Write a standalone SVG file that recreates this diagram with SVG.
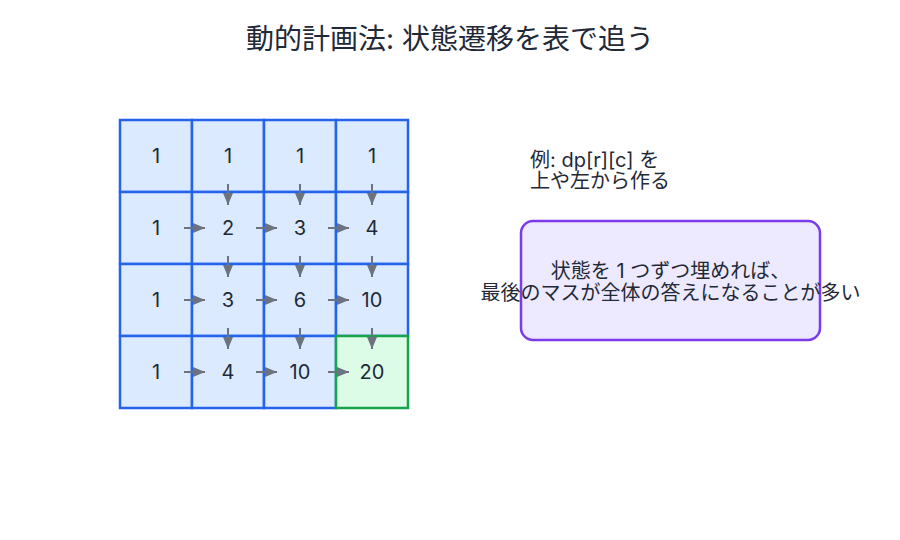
<svg xmlns="http://www.w3.org/2000/svg" width="900" height="540" viewBox="0 0 900 540">
<defs>
<marker id="ah" viewBox="0 0 12 10" refX="12" refY="5" markerWidth="12" markerHeight="10" markerUnits="userSpaceOnUse" orient="auto">
<path d="M0,0 L12,5 L0,10 Z" fill="#6b7280"/>
</marker>
</defs>
<style>
text{font-family:Inter,"Noto Sans CJK JP",sans-serif;fill:#1f2937}
.title{font-size:28px}
.num{font-size:20px;text-anchor:middle;dominant-baseline:central}
.lbl{font-size:20px}
.cell rect{fill:#dbeafe;stroke:#2563eb;stroke-width:2.5}
.goal rect{fill:#dcfce7;stroke:#16a34a;stroke-width:2.5}
.arr line{stroke:#6b7280;stroke-width:2;marker-end:url(#ah)}
.note{fill:#ede9fe;stroke:#7c3aed;stroke-width:2.5}
.mid{text-anchor:middle}
</style>
<rect width="900" height="540" fill="#ffffff"/>
<text class="title" x="450" y="49" text-anchor="middle">動的計画法: 状態遷移を表で追う</text>

<g id="c00" class="cell"><rect x="120" y="120" width="72" height="72"/><text class="num" x="156" y="156">1</text></g>
<g id="c01" class="cell"><rect x="192" y="120" width="72" height="72"/><text class="num" x="228" y="156">1</text></g>
<g id="c02" class="cell"><rect x="264" y="120" width="72" height="72"/><text class="num" x="300" y="156">1</text></g>
<g id="c03" class="cell"><rect x="336" y="120" width="72" height="72"/><text class="num" x="372" y="156">1</text></g>
<g id="c10" class="cell"><rect x="120" y="192" width="72" height="72"/><text class="num" x="156" y="228">1</text></g>
<g id="c11" class="cell"><rect x="192" y="192" width="72" height="72"/><text class="num" x="228" y="228">2</text></g>
<g id="c12" class="cell"><rect x="264" y="192" width="72" height="72"/><text class="num" x="300" y="228">3</text></g>
<g id="c13" class="cell"><rect x="336" y="192" width="72" height="72"/><text class="num" x="372" y="228">4</text></g>
<g id="c20" class="cell"><rect x="120" y="264" width="72" height="72"/><text class="num" x="156" y="300">1</text></g>
<g id="c21" class="cell"><rect x="192" y="264" width="72" height="72"/><text class="num" x="228" y="300">3</text></g>
<g id="c22" class="cell"><rect x="264" y="264" width="72" height="72"/><text class="num" x="300" y="300">6</text></g>
<g id="c23" class="cell"><rect x="336" y="264" width="72" height="72"/><text class="num" x="372" y="300">10</text></g>
<g id="c30" class="cell"><rect x="120" y="336" width="72" height="72"/><text class="num" x="156" y="372">1</text></g>
<g id="c31" class="cell"><rect x="192" y="336" width="72" height="72"/><text class="num" x="228" y="372">4</text></g>
<g id="c32" class="cell"><rect x="264" y="336" width="72" height="72"/><text class="num" x="300" y="372">10</text></g>
<g id="c33" class="goal"><rect x="336" y="336" width="72" height="72"/><text class="num" x="372" y="372">20</text></g>

<g id="connectors" class="arr">
<line x1="228" y1="184" x2="228" y2="205"/>
<line x1="300" y1="184" x2="300" y2="205"/>
<line x1="372" y1="184" x2="372" y2="205"/>
<line x1="228" y1="256" x2="228" y2="277"/>
<line x1="300" y1="256" x2="300" y2="277"/>
<line x1="372" y1="256" x2="372" y2="277"/>
<line x1="228" y1="328" x2="228" y2="349"/>
<line x1="300" y1="328" x2="300" y2="349"/>
<line x1="372" y1="328" x2="372" y2="349"/>
<line x1="184" y1="228" x2="205" y2="228"/>
<line x1="256" y1="228" x2="277" y2="228"/>
<line x1="328" y1="228" x2="349" y2="228"/>
<line x1="184" y1="300" x2="205" y2="300"/>
<line x1="256" y1="300" x2="277" y2="300"/>
<line x1="328" y1="300" x2="349" y2="300"/>
<line x1="184" y1="372" x2="205" y2="372"/>
<line x1="256" y1="372" x2="277" y2="372"/>
<line x1="328" y1="372" x2="349" y2="372"/>
</g>

<g id="hint">
<text class="lbl" x="530" y="167">例: dp[r][c] を</text>
<text class="lbl" x="530" y="188">上や左から作る</text>
</g>

<g id="summary">
<rect class="note" x="521" y="221" width="299" height="119" rx="12"/>
<text class="lbl mid" x="670.5" y="278">状態を 1 つずつ埋めれば、</text>
<text class="lbl mid" x="670.5" y="300">最後のマスが全体の答えになることが多い</text>
</g>
</svg>
